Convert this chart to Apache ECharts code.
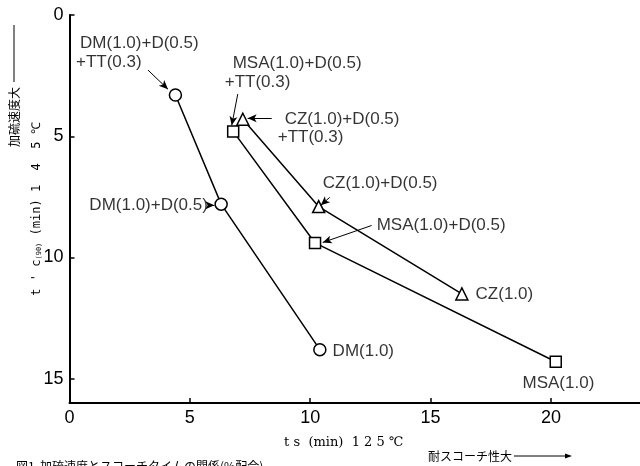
<!DOCTYPE html>
<html>
<head>
<meta charset="utf-8">
<script src="https://cdn.jsdelivr.net/npm/echarts@6/dist/echarts.min.js"></script>
<style>
  html, body { margin: 0; padding: 0; background: #fff; }
  #chart { width: 640px; height: 466px; }
</style>
</head>
<body>
<div id="chart"></div>
<script>
// 測定値 (ts, t'c90)
const dmX = [4.4, 6.3, 10.4];
const dmY = [3.3, 7.8, 13.8];
const msaX = [6.8, 10.2, 20.2];
const msaY = [4.8, 9.4, 14.3];
const czX = [7.2, 10.35, 16.3];
const czY = [4.3, 7.9, 11.5];

const xTicks = [0, 5, 10, 15, 20];
const yTicks = [0, 5, 10, 15];

// 注記: [x, y, 文字, 向き]
const annoLabels = [
  [0.44, 1.16, 'DM(1.0)+D(0.5)', 'right'],
  [0.27, 1.94, '+TT(0.3)', 'right'],
  [5.75, 7.85, 'DM(1.0)+D(0.5)', 'left'],
  [6.78, 1.98, 'MSA(1.0)+D(0.5)', 'right'],
  [6.45, 2.77, '+TT(0.3)', 'right'],
  [8.94, 4.30, 'CZ(1.0)+D(0.5)', 'right'],
  [8.65, 5.04, '+TT(0.3)', 'right'],
  [10.52, 6.94, 'CZ(1.0)+D(0.5)', 'right'],
  [12.76, 8.68, 'MSA(1.0)+D(0.5)', 'right'],
  [16.87, 11.53, 'CZ(1.0)', 'right'],
  [10.93, 13.88, 'DM(1.0)', 'right'],
  [18.82, 15.17, 'MSA(1.0)', 'right']
];
// 矢印: [x1, y1, x2, y2]
const annoArrows = [
  [3.26, 2.27, 4.09, 3.06],
  [5.78, 7.85, 6.02, 7.85],
  [6.99, 3.26, 6.74, 4.55],
  [8.40, 4.26, 7.40, 4.26],
  [10.81, 7.52, 10.44, 7.85],
  [12.55, 8.68, 10.52, 9.38]
];

const zip = (xs, ys) => xs.map((x, i) => [x, ys[i]]);
const FONT = 'Liberation Sans';
const JP = 'Noto Sans CJK JP';
const INK = '#000';

const markerStyle = { color: '#fff', borderColor: INK, borderWidth: 1.5 };
const lineSeries = (name, xs, ys, symbol, size) => ({
  name: name,
  type: 'line',
  data: zip(xs, ys),
  symbol: symbol,
  symbolSize: size,
  showAllSymbol: true,
  lineStyle: { color: INK, width: 1.5 },
  itemStyle: markerStyle,
  emphasis: { disabled: true },
  z: 3
});

const option = {
  animation: false,
  backgroundColor: '#fff',
  grid: { left: 69.5, top: 15, right: 0, bottom: 63 },
  xAxis: {
    type: 'value',
    min: 0,
    max: 23.7,
    interval: 5,
    axisLine: { onZero: false, lineStyle: { color: INK, width: 2 } },
    axisTick: { inside: true, length: 5, lineStyle: { color: INK, width: 1.5 } },
    axisLabel: {
      showMaxLabel: false,
      color: INK, fontFamily: FONT, fontSize: 18, margin: 6,
      formatter: v => xTicks.includes(v) ? String(v) : ''
    },
    splitLine: { show: false },
    name: 't s  (min)  1 2 5 ℃',
    nameLocation: 'middle',
    nameGap: 33,
    nameTextStyle: { color: INK, fontFamily: 'DejaVu Serif', fontSize: 13, padding: [0, 22, 0, 0] }
  },
  yAxis: {
    type: 'value',
    inverse: true,
    min: 0,
    max: 16,
    interval: 5,
    axisLine: { onZero: false, lineStyle: { color: INK, width: 2 } },
    axisTick: { inside: true, length: 5, lineStyle: { color: INK, width: 1.5 } },
    axisLabel: {
      showMaxLabel: false,
      color: INK, fontFamily: FONT, fontSize: 18, margin: 6,
      formatter: v => yTicks.includes(v) ? String(v) : ''
    },
    splitLine: { show: false },
    name: "{a|t ' c}{s|(90)}{a| (min) 1  4  5 ℃}",
    nameLocation: 'middle',
    nameRotate: 90,
    nameGap: 27,
    nameMoveOverlap: false,
    nameTextStyle: {
      rich: {
        a: { color: INK, fontFamily: 'DejaVu Sans Mono', fontSize: 12 },
        s: { color: INK, fontFamily: 'DejaVu Sans Mono', fontSize: 7, verticalAlign: 'bottom' }
      }
    }
  },
  series: [
    lineSeries('DM', dmX, dmY, 'circle', 12),
    lineSeries('MSA', msaX, msaY, 'rect', 11),
    lineSeries('CZ', czX, czY, 'triangle', 12),
    {
      name: 'anno',
      type: 'scatter',
      symbolSize: 0,
      silent: true,
      data: annoLabels.map(a => ({
        value: [a[0], a[1]],
        label: {
          show: true,
          position: a[3],
          distance: 0,
          formatter: a[2],
          color: INK,
          fontFamily: FONT,
          fontSize: 17
        }
      })),
      markLine: {
        silent: true,
        symbol: ['none', 'arrow'],
        symbolSize: [6, 9],
        label: { show: false },
        lineStyle: { color: INK, width: 1, type: 'solid' },
        data: annoArrows.map(a => [{ coord: [a[0], a[1]] }, { coord: [a[2], a[3]] }])
      }
    }
  ],
  graphic: [
    {
      type: 'text',
      x: 14, y: 117,
      rotation: Math.PI / 2,
      style: { text: '加硫速度大', fill: INK, font: '12px "' + JP + '"', textAlign: 'center', textVerticalAlign: 'middle' }
    },
    {
      type: 'line',
      shape: { x1: 14, y1: 25, x2: 14, y2: 82 },
      style: { stroke: INK, lineWidth: 1 }
    },
    {
      type: 'text',
      x: 428, y: 456,
      style: { text: '耐スコーチ性大', fill: INK, font: '12px "' + JP + '"', textAlign: 'left', textVerticalAlign: 'middle' }
    },
    {
      type: 'line',
      shape: { x1: 514, y1: 456, x2: 568, y2: 456 },
      style: { stroke: INK, lineWidth: 1 }
    },
    {
      type: 'polygon',
      shape: { points: [[572, 456], [565, 453.5], [565, 458.5]] },
      style: { fill: INK }
    },
    {
      type: 'text',
      x: 16, y: 460,
      style: { text: '図1  加硫速度とスコーチタイムの関係(%配合)', fill: INK, font: '12px "' + JP + '"', textAlign: 'left', textVerticalAlign: 'top' }
    }
  ]
};

const myChart = echarts.init(document.getElementById('chart'));
myChart.setOption(option);
</script>
</body>
</html>
